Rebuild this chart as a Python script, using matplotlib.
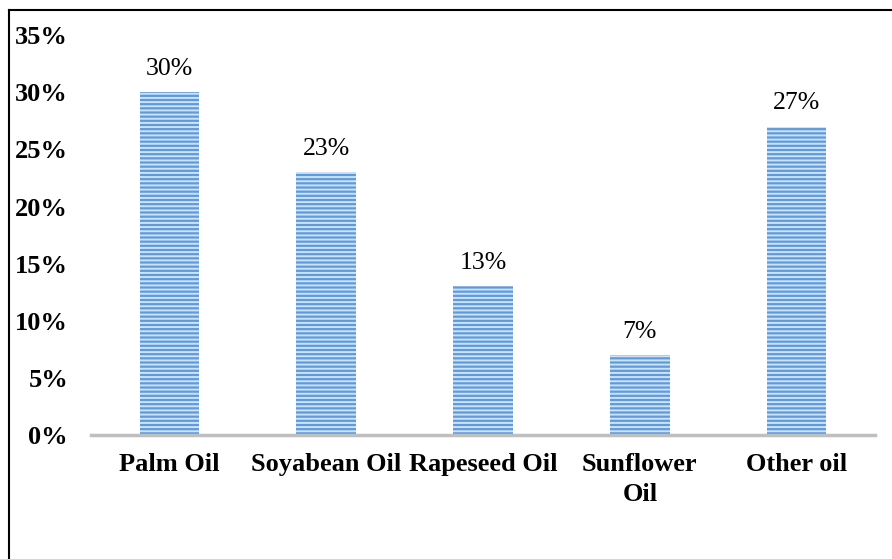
import matplotlib.pyplot as plt
from matplotlib.lines import Line2D

categories = ['Palm Oil', 'Soyabean Oil', 'Rapeseed Oil', 'Sunflower\nOil', 'Other oil']
shares = [30, 23, 13, 7, 27]
yticks = [0, 5, 10, 15, 20, 25, 30, 35]

plt.rcParams['font.family'] = ['Liberation Serif', 'DejaVu Serif']
plt.rcParams['hatch.linewidth'] = 1.4

fig = plt.figure(figsize=(8.92, 5.59), dpi=100)
ax = fig.add_axes([0.102, 0.222, 0.879, 0.715])

x = range(len(categories))
bars = ax.bar(x, shares, width=0.38, color='#5e9bdb', edgecolor='#cfe2f5',
              linewidth=0, hatch='----')

for rect, v in zip(bars, shares):
    ax.annotate(f'{v}%', (rect.get_x() + rect.get_width() / 2, v),
                xytext=(0, 12.5), textcoords='offset points',
                ha='center', va='baseline', fontsize=18.5)

ax.set_xlim(-0.5, len(categories) - 0.5)
ax.set_ylim(0, 35)
ax.set_yticks(yticks)
ax.set_yticklabels([f'{t}%' for t in yticks], fontsize=19, fontweight='bold')
ax.set_xticks(list(x))
ax.set_xticklabels(categories, fontsize=19, fontweight='bold', linespacing=1.4)
ax.tick_params(axis='y', length=0, pad=16.5)
ax.tick_params(axis='x', length=0, pad=13)

for side in ['top', 'right', 'left']:
    ax.spines[side].set_visible(False)
ax.spines['bottom'].set_color('#bfbfbf')
ax.spines['bottom'].set_linewidth(2.5)

# outer frame (top and left edges)
fig.add_artist(Line2D([9 / 892, 1.0], [1 - 10 / 559, 1 - 10 / 559], color='black', lw=1.5))
fig.add_artist(Line2D([9 / 892, 9 / 892], [0.0, 1 - 10 / 559], color='black', lw=1.5))

fig.savefig('out.png', dpi=100)
